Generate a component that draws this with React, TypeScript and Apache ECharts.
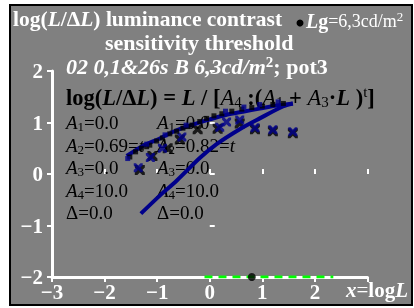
import React, { useEffect, useRef } from 'react';
import * as echarts from 'echarts';

const xTickValues = [-3, -2, -1, 0, 1, 2];
const upperCurve = [[-1.58, 0.35], [-1.28, 0.54], [-0.95, 0.69], [-0.63, 0.85], [-0.32, 0.96], [0, 1.06], [0.32, 1.15], [0.63, 1.21], [0.95, 1.27], [1.28, 1.33], [1.58, 1.37]];
const lowerCurve = [[-1.31, -0.77], [-0.95, -0.42], [-0.63, -0.13], [-0.19, 0.31], [0.13, 0.58], [0.57, 0.87], [0.95, 1.08], [1.39, 1.31], [1.58, 1.37]];
const blackSquares = [[-1.52, 0.33], [-1.41, 0.43], [-1.3, 0.5], [-1.2, 0.53], [-1.14, 0.56], [-1.01, 0.64], [-0.9, 0.7], [-0.76, 0.78], [-0.63, 0.83], [-0.51, 0.89], [-0.42, 0.92], [-0.34, 0.95], [-0.19, 1.02], [-0.06, 1.08], [0.08, 1.13], [0.23, 1.17], [0.42, 1.22], [0.61, 1.26], [0.8, 1.29], [1.0, 1.32], [1.2, 1.35], [1.4, 1.37]];
const blueSquares = [[-1.56, 0.3], [-1.2, 0.58], [-0.85, 0.76], [-0.45, 0.95], [0.3, 1.22], [0.65, 1.3], [0.95, 1.35], [1.3, 1.4]];
const blackCrosses = [[-1.33, 0.08], [-1.09, 0.35], [-0.8, 0.5], [-0.57, 0.67], [-0.23, 0.87], [0.15, 0.88], [0.57, 0.98], [0.86, 0.87], [1.2, 0.83], [1.58, 0.79]];
const blueCrosses = [[-1.36, 0.12], [-1.13, 0.32], [-0.9, 0.5], [-0.53, 0.72], [0.19, 0.91], [0.32, 1.01], [0.57, 1.05], [0.86, 0.9], [1.2, 0.86], [1.58, 0.82]];
const greenLine = [[-0.1, -2], [2.35, -2]];
const adaptPoint = [[0.8, -2]];

const FONT = 'Liberation Serif';
const CROSS = 'path://M0,0 L2.5,0 L5,2.5 L7.5,0 L10,0 L10,2.5 L7.5,5 L10,7.5 L10,10 L7.5,10 L5,7.5 L2.5,10 L0,10 L0,7.5 L2.5,5 L0,2.5 Z';
const NAVY = '#00008b';

const fmt = (v: number) => (v === 3 ? '' : String(v).replace('-', '\u2212'));

function richBase(size: number, color: string) {
  return {
    b: { fontSize: size, fontWeight: 'bold', fontFamily: FONT, fill: color, lineHeight: size + 2 },
    bi: { fontSize: size, fontWeight: 'bold', fontStyle: 'italic', fontFamily: FONT, fill: color, lineHeight: size + 2 },
    r: { fontSize: size, fontFamily: FONT, fill: color, lineHeight: size + 2 },
    rs: { fontSize: Math.round(size * 0.9), fontFamily: FONT, fill: color, lineHeight: size + 2 },
    i: { fontSize: size, fontStyle: 'italic', fontFamily: FONT, fill: color, lineHeight: size + 2 },
    sub: { fontSize: Math.round(size * 0.66), fontFamily: FONT, fill: color, lineHeight: Math.round(size * 0.66), verticalAlign: 'bottom' },
    sup: { fontSize: Math.round(size * 0.66), fontFamily: FONT, fill: color, lineHeight: Math.round(size * 0.66), verticalAlign: 'top' },
    supb: { fontSize: Math.round(size * 0.7), fontWeight: 'bold', fontFamily: FONT, fill: color, lineHeight: Math.round(size * 0.7), verticalAlign: 'top' },
  };
}

function txt(x: number, y: number, text: string, size: number, color: string) {
  return {
    type: 'text', x, y, z: 1,
    style: { text, fill: color, font: `${size}px ${FONT}`, textVerticalAlign: 'middle', rich: richBase(size, color) },
  };
}

export default function App() {
  const ref = useRef<HTMLDivElement>(null);
  useEffect(() => {
    const chart = echarts.init(ref.current!, null, { renderer: 'svg' });
    const aRows1 = [
      '{i|A}{sub|1}{r|=0.0}',
      '{i|A}{sub|2}{r|=0.69=}{i|t}',
      '{i|A}{sub|3}{r|=0.0}',
      '{i|A}{sub|4}{r|=10.0}',
      '{r|\u0394=0.0}',
    ];
    const aRows2 = [
      '{i|A}{sub|1}{r|=0.0}',
      '{i|A}{sub|2}{r|=0.82=}{i|t}',
      '{i|A}{sub|3}{r|=0.0}',
      '{i|A}{sub|4}{r|=10.0}',
      '{r|\u0394=0.0}',
    ];
    const rowY = [122, 145, 167, 190, 212];
    const graphics: any[] = [
      { type: 'rect', z: 0, shape: { x: 10, y: 5, width: 402, height: 300 }, style: { fill: '#808080', stroke: '#000', lineWidth: 2 } },
      txt(13, 19, '{b|log(}{bi|L}{b|/\u0394}{bi|L}{b|) luminance contrast}', 21.5, '#fff'),
      txt(105, 42, '{b|sensitivity threshold}', 22, '#fff'),
      { type: 'circle', z: 1, shape: { cx: 300, cy: 23, r: 3.5 }, style: { fill: '#000' } },
      txt(306, 21, '{bi|L}{b|g}{rs|=6,3cd/m}{sup|2}', 20, '#fff'),
      txt(66, 66, '{bi|02 0,1&26s B 6,3cd/m}{supb|2}{b|; pot3}', 22, '#fff'),
      txt(66, 97, '{b|log(}{bi|L}{b|/\u0394}{bi|L}{b|) = }{bi|L}{b| / [}{i|A}{sub|4}{b| :(}{i|A}{sub|1}{b| + }{i|A}{sub|3}{b|\u00b7}{bi|L}{b| )}{sup|t}{b|]}', 22.5, '#000'),
      txt(346, 290, '{bi|x}{r|=}{b|log}{bi|L}', 21, '#fff'),
    ];
    aRows1.forEach((t, k) => graphics.push(txt(66, rowY[k], t, 19, '#000')));
    aRows2.forEach((t, k) => graphics.push(txt(157, rowY[k], t, 19, '#000')));

    const axisLabelStyle = { color: '#fff', fontFamily: FONT, fontSize: 21, fontWeight: 'bold' };
    chart.setOption({
      animation: false,
      graphic: graphics,
      grid: { left: 52, right: 46.5, top: 71, bottom: 31 },
      xAxis: [
        {
          type: 'value', min: -3, max: 3, interval: 1,
          axisLine: { show: true, onZero: false, lineStyle: { color: '#fff', width: 3 } },
          axisTick: { show: true, inside: false, length: 5, lineStyle: { color: '#fff', width: 2 } },
          axisLabel: { ...axisLabelStyle, margin: 4, formatter: fmt },
          splitLine: { show: false },
          customValues: xTickValues,
        },
        {
          type: 'value', min: -3, max: 3, interval: 1, position: 'bottom',
          axisLine: { show: false },
          axisTick: { show: true, inside: true, length: 5, lineStyle: { color: '#fff', width: 2 } },
          axisLabel: { show: false },
          splitLine: { show: false },
        },
      ],
      yAxis: [
        {
          type: 'value', min: -2, max: 2, interval: 1,
          axisLine: { show: true, onZero: false, lineStyle: { color: '#fff', width: 3 } },
          axisTick: { show: true, inside: false, length: 5, lineStyle: { color: '#fff', width: 2 } },
          axisLabel: { ...axisLabelStyle, margin: 9, formatter: fmt },
          splitLine: { show: false },
        },
        {
          type: 'value', min: -2, max: 2, interval: 1, position: 'left',
          axisLine: { show: false },
          axisTick: { show: true, inside: true, length: 5, lineStyle: { color: '#fff', width: 2 } },
          axisLabel: { show: false },
          splitLine: { show: false },
        },
      ],
      series: [
        { type: 'line', data: greenLine, symbol: 'none', lineStyle: { color: '#00ff00', width: 3, type: [8, 6] }, z: 3 },
        { type: 'scatter', data: adaptPoint, symbol: 'circle', symbolSize: 8, itemStyle: { color: '#000' }, z: 4 },
        { type: 'scatter', data: blackCrosses, symbol: CROSS, symbolSize: 10, itemStyle: { color: '#000' }, z: 3 },
        { type: 'scatter', data: blueCrosses, symbol: CROSS, symbolSize: 9, itemStyle: { color: NAVY }, z: 3 },
        { type: 'line', data: lowerCurve, smooth: 0.3, symbol: 'none', lineStyle: { color: NAVY, width: 4 }, z: 4 },
        { type: 'line', data: upperCurve, smooth: 0.3, symbol: 'none', lineStyle: { color: NAVY, width: 4 }, z: 4 },
        { type: 'scatter', data: blackSquares, symbol: 'rect', symbolSize: 5, itemStyle: { color: '#000' }, z: 5 },
        { type: 'scatter', data: blueSquares, symbol: 'rect', symbolSize: 5, itemStyle: { color: NAVY }, z: 5 },
      ],
    });
    return () => chart.dispose();
  }, []);
  return <div ref={ref} style={{ position: 'fixed', left: 0, top: 0, width: 414, height: 308 }} />;
}
